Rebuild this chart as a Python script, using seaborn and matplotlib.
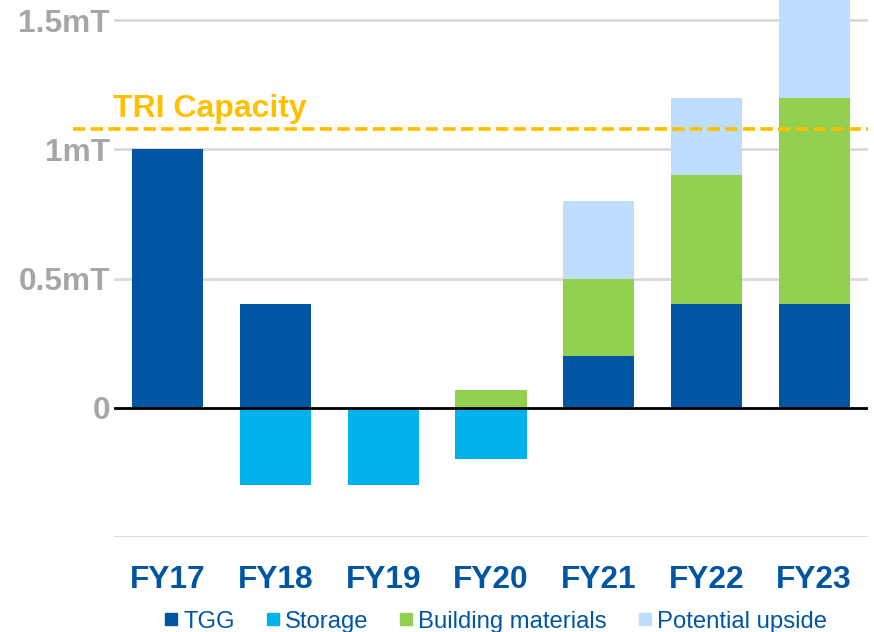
import pandas as pd
import numpy as np
import matplotlib.pyplot as plt
import seaborn as sns
from matplotlib.lines import Line2D

# data (million tonnes)
years = ["FY17", "FY18", "FY19", "FY20", "FY21", "FY22", "FY23"]
tgg = [1.0, 0.4, 0.0, 0.0, 0.2, 0.4, 0.4]
storage = [0.0, -0.3, -0.3, -0.2, 0.0, 0.0, 0.0]
building = [0.0, 0.0, 0.0, 0.07, 0.3, 0.5, 0.8]
upside = [0.0, 0.0, 0.0, 0.0, 0.3, 0.3, 0.4]
tri_capacity = 1.08

ytick_vals = [-0.5, 0, 0.5, 1, 1.5]
ytick_text = ["", "0", "0.5mT", "1mT", "1.5mT"]

c_tgg = "#0056A2"
c_storage = "#00B2EB"
c_building = "#92D050"
c_upside = "#BDDEFF"
c_cap = "#FFC000"
c_grey = "#A6A6A6"

sns.set_style("white")
plt.rcParams["font.family"] = ["Liberation Sans", "DejaVu Sans"]

df = pd.DataFrame({"year": years, "tgg": tgg, "storage": storage,
                   "building": building, "upside": upside})
df["lvl2"] = df["tgg"] + df["building"]
df["lvl3"] = df["lvl2"] + df["upside"]

fig = plt.figure(figsize=(8.74, 6.32), dpi=100)
ax = fig.add_axes([114 / 874, 95 / 632, 754 / 874, 537 / 632])

ax.set_axisbelow(True)
for v in ytick_vals:
    ax.axhline(v, color="#D9D9D9", lw=2, zorder=0)

# stacked by overdrawing cumulative totals (tallest first)
bw = 0.66
sns.barplot(data=df, x="year", y="lvl3", color=c_upside, width=bw, saturation=1,
            linewidth=0, ax=ax, zorder=2)
sns.barplot(data=df, x="year", y="lvl2", color=c_building, width=bw, saturation=1,
            linewidth=0, ax=ax, zorder=2)
sns.barplot(data=df, x="year", y="tgg", color=c_tgg, width=bw, saturation=1,
            linewidth=0, ax=ax, zorder=2)
sns.barplot(data=df, x="year", y="storage", color=c_storage, width=bw, saturation=1,
            linewidth=0, ax=ax, zorder=2)

ax.axhline(0, color="black", lw=2, zorder=3)

# TRI capacity line and label
ax.axhline(tri_capacity, xmin=-41 / 754, xmax=1, color=c_cap, lw=2.7,
           dashes=(3.3, 1.4), clip_on=False, zorder=4)
ax.text(-0.51, 1.125, "TRI Capacity", color=c_cap, fontsize=23,
        fontweight="bold", va="baseline", ha="left")

ax.set_xlim(-0.5, 6.5)
ax.set_ylim(-0.5, 1.5 + 20 / 258)
ax.set_yticks(ytick_vals)
ax.set_yticklabels(ytick_text, color=c_grey, fontsize=22.8, fontweight="bold")
ax.set_xticks(range(len(years)))
ax.set_xticklabels(years, color=c_tgg, fontsize=22.8, fontweight="bold")
ax.tick_params(axis="y", length=0, pad=3)
ax.tick_params(axis="x", length=0, pad=20)
ax.set_xlabel("")
ax.set_ylabel("")
sns.despine(ax=ax, left=True, bottom=True)

handles = [Line2D([], [], marker="s", ls="", color=c, markersize=9)
           for c in [c_tgg, c_storage, c_building, c_upside]]
fig.legend(handles, ["TGG", "Storage", "Building materials", "Potential upside"],
           loc="lower center", bbox_to_anchor=(0.567, -0.035), ncol=4, frameon=False,
           fontsize=17.2, handlelength=0.6, handletextpad=0.2, columnspacing=1.3,
           labelcolor=c_tgg)

fig.savefig("out.png", dpi=100)
